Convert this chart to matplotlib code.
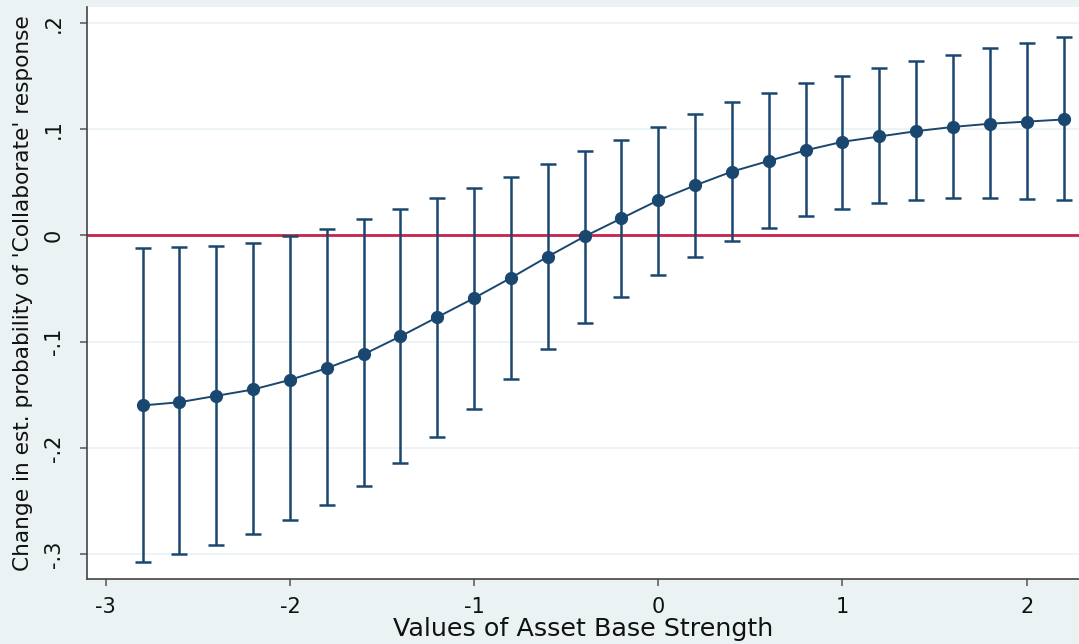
import matplotlib
matplotlib.use("Agg")
import matplotlib.pyplot as plt

plt.rcParams['font.family'] = ['DejaVu Sans']

# Values of asset base strength at which the marginal effect was evaluated
strength = [-2.8, -2.6, -2.4, -2.2, -2.0, -1.8, -1.6, -1.4, -1.2, -1.0,
            -0.8, -0.6, -0.4, -0.2, 0.0, 0.2, 0.4, 0.6, 0.8, 1.0,
            1.2, 1.4, 1.6, 1.8, 2.0, 2.2]
# Estimated change in probability
effect = [-0.160, -0.157, -0.151, -0.145, -0.136, -0.125, -0.112, -0.095, -0.077, -0.059,
          -0.040, -0.020, -0.001, 0.016, 0.033, 0.047, 0.060, 0.070, 0.080, 0.088,
          0.093, 0.098, 0.102, 0.105, 0.107, 0.109]
# 95% confidence bounds
ci_low = [-0.307, -0.300, -0.291, -0.281, -0.268, -0.254, -0.236, -0.214, -0.190, -0.163,
          -0.135, -0.107, -0.082, -0.058, -0.037, -0.020, -0.005, 0.007, 0.018, 0.025,
          0.030, 0.033, 0.035, 0.035, 0.034, 0.033]
ci_high = [-0.012, -0.011, -0.010, -0.007, -0.001, 0.006, 0.015, 0.025, 0.035, 0.045,
           0.055, 0.067, 0.079, 0.090, 0.102, 0.114, 0.125, 0.134, 0.143, 0.150,
           0.157, 0.164, 0.170, 0.176, 0.181, 0.187]

x_ticks = [-3, -2, -1, 0, 1, 2]
y_ticks = [-0.3, -0.2, -0.1, 0.0, 0.1, 0.2]
y_tick_labels = ['-.3', '-.2', '-.1', '0', '.1', '.2']

navy = '#1a476f'
bg = '#eaf2f3'

fig = plt.figure(figsize=(10.79, 6.44), dpi=100, facecolor=bg)
ax = fig.add_axes([0.0809, 0.1009, 0.9191, 0.8882])
ax.set_facecolor('white')

for yv in y_ticks:
    ax.axhline(yv, color=bg, lw=1.2, zorder=0)

ax.axhline(0, color='#c8234a', lw=2.0, zorder=1)

yerr = [[e - lo for e, lo in zip(effect, ci_low)],
        [hi - e for e, hi in zip(effect, ci_high)]]
ax.errorbar(strength, effect, yerr=yerr, fmt='none', ecolor=navy,
            elinewidth=1.8, capsize=5.5, capthick=1.8, zorder=2)
ax.plot(strength, effect, color=navy, lw=1.4, marker='o', markersize=8.5,
        markerfacecolor=navy, markeredgecolor=navy, zorder=3)

ax.set_xlim(-3.10, 2.284)
ax.set_ylim(-0.3233, 0.2148)
ax.set_xticks(x_ticks)
ax.set_xticklabels([str(v) for v in x_ticks])
ax.set_yticks(y_ticks)
ax.set_yticklabels(y_tick_labels, rotation=90, va='center')

for side in ['top', 'right']:
    ax.spines[side].set_visible(False)
for side in ['left', 'bottom']:
    ax.spines[side].set_color('#444444')
    ax.spines[side].set_linewidth(1.2)

ax.tick_params(axis='both', direction='out', length=5, width=1.1,
               color='#555555', labelsize=15, labelcolor='#111111')
ax.tick_params(axis='x', pad=8)
ax.tick_params(axis='y', pad=12)

ax.set_xlabel('Values of Asset Base Strength', fontsize=18.3, color='#111111', labelpad=0)
ax.set_ylabel("Change in est. probability of 'Collaborate' response", fontsize=15.6,
              color='#111111', labelpad=8)

fig.savefig('out.png', dpi=100, facecolor=bg)
